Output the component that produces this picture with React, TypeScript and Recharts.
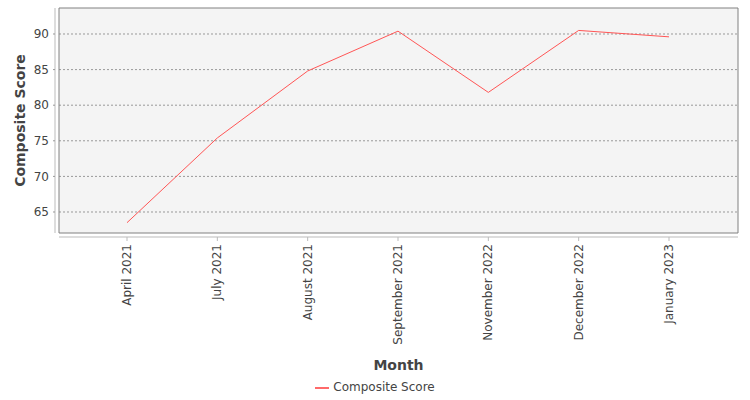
import { LineChart, Line, XAxis, YAxis, CartesianGrid, Legend } from 'recharts';

const months = [
  'April 2021',
  'July 2021',
  'August 2021',
  'September 2021',
  'November 2022',
  'December 2022',
  'January 2023',
];
const compositeScore = [63.5, 75.4, 84.8, 90.4, 81.8, 90.5, 89.6];
const yTicks = [65, 70, 75, 80, 85, 90];
const yDomain = [62.05, 93.65];

const data = months.map((month, i) => ({ month, score: compositeScore[i] }));

const FONT = "'DejaVu Sans', sans-serif";
const TEXT = '#444444';

// rotated category label, reads bottom to top
function MonthTick({ x, y, payload }: any) {
  return (
    <g transform={`translate(${x},${y + 5})`}>
      <text
        transform="rotate(-90)"
        textAnchor="end"
        dominantBaseline="central"
        fill={TEXT}
        fontSize={12}
        fontFamily={FONT}
      >
        {payload.value}
      </text>
    </g>
  );
}

// plot outline: grid lines on the plot edges only
const frameX = ({ offset }: any) => [offset.left, offset.left + offset.width];
const frameY = ({ offset }: any) => [offset.top, offset.top + offset.height];

export default function App() {
  return (
    <div style={{ position: 'absolute', left: 0, top: 0 }}>
      <LineChart
        width={750}
        height={400}
        data={data}
        margin={{ top: 8, right: 12, left: 0, bottom: 0 }}
        style={{ fontFamily: FONT }}
      >
        <CartesianGrid
          vertical={false}
          syncWithTicks
          fill="#f4f4f4"
          stroke="#999"
          strokeDasharray="2 2"
        />
        <CartesianGrid
          verticalCoordinatesGenerator={frameX}
          horizontalCoordinatesGenerator={frameY}
          stroke="#808080"
        />
        <XAxis
          dataKey="month"
          interval={0}
          height={147}
          padding={{ left: 68, right: 69 }}
          tick={<MonthTick />}
          tickSize={4}
          axisLine={{ stroke: '#bbb', transform: 'translate(0,4)' }}
          tickLine={{ stroke: '#bbb', transform: 'translate(0,4)' }}
          label={{ value: 'Month', position: 'insideBottom', offset: 10, fill: TEXT, fontSize: 14, fontWeight: 'bold' }}
        />
        <YAxis
          width={59}
          domain={yDomain}
          ticks={yTicks}
          allowDataOverflow
          tickSize={2}
          tickMargin={8}
          tick={{ fill: TEXT, fontSize: 12 }}
          tickLine={{ stroke: '#999', transform: 'translate(-4,0)' }}
          axisLine={{ stroke: '#bbb', transform: 'translate(-4,0)' }}
          label={{ value: 'Composite Score', angle: -90, position: 'center', dx: -9, fill: TEXT, fontSize: 14, fontWeight: 'bold' }}
        />
        <Legend
          height={20}
          iconType="plainline"
          iconSize={14}
          wrapperStyle={{ fontSize: 12, fontFamily: FONT, left: 0, width: 760 }}
          formatter={(value) => <span style={{ color: TEXT }}>{value}</span>}
        />
        <Line
          type="linear"
          dataKey="score"
          name="Composite Score"
          stroke="#ff5555"
          strokeWidth={1}
          dot={false}
          isAnimationActive={false}
        />
      </LineChart>
    </div>
  );
}
